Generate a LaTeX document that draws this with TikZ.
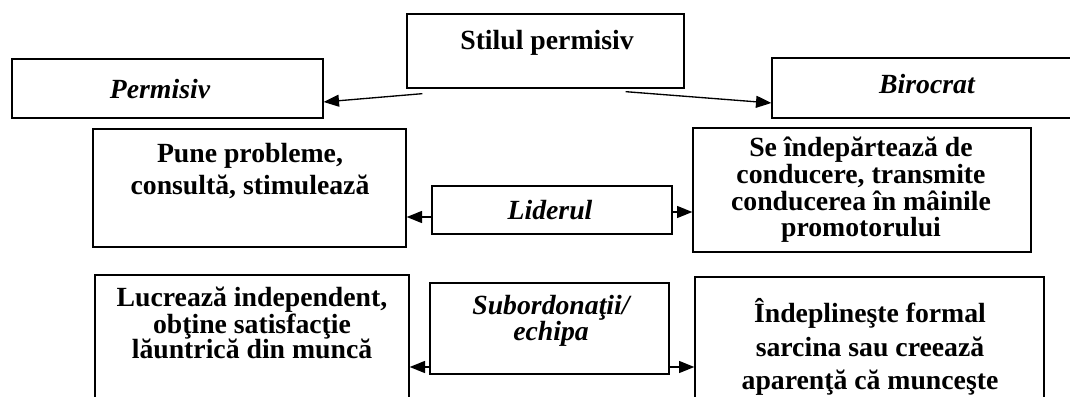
\documentclass[tikz,border=0pt]{standalone}
\usepackage{fontspec}
\setmainfont{Liberation Serif}
\usetikzlibrary{arrows.meta,fit}
\tikzset{
  box/.style={draw, line width=1pt, inner sep=0pt, rectangle},
  txt/.style={align=center, inner sep=0pt, font=\fontsize{20.8}{24}\selectfont\bfseries},
  itxt/.style={align=center, inner sep=0pt, font=\fontsize{20.8}{24}\selectfont\bfseries\itshape},
  conn/.style={line width=1pt, -{Triangle[length=11.5pt,width=9pt]}}
}
\begin{document}
\begin{tikzpicture}[x=0.75pt,y=-0.75pt]
\clip (0,0) rectangle (1070,396);
\fill[white] (0,0) rectangle (1070,396);
% boxes
\node[box, fit={(407,14) (684,88)}] (top) {};
\node[box, fit={(12,59) (323,118)}] (perm) {};
\node[box, fit={(772,58) (1085,118)}] (biro) {};
\node[box, fit={(93,129) (406,247)}] (pune) {};
\node[box, fit={(432,186) (672,234)}] (lid) {};
\node[box, fit={(693,128) (1031,252)}] (se) {};
\node[box, fit={(95,275) (409,410)}] (lucr) {};
\node[box, fit={(430,283) (669,374)}] (sub) {};
\node[box, fit={(695,277) (1044,410)}] (indep) {};
% texts
\node[txt] (ttop) at (547,43) {Stilul permisiv};
\node[itxt] (tperm) at (160,89) {Permisiv};
\node[itxt] (tbiro) at (927,84) {Birocrat};
\node[txt, font=\fontsize{20.8}{24.5}\selectfont\bfseries] (tpune) at (250,171) {Pune probleme,\\consultă, stimulează};
\node[itxt] (tlid) at (550,210) {Liderul};
\node[txt, font=\fontsize{20.8}{20}\selectfont\bfseries] (tse) at (861,190) {Se îndepărtează de\\conducere, transmite\\conducerea în mâinile\\promotorului};
\node[txt, font=\fontsize{20.8}{19}\selectfont\bfseries] (tlucr) at (252,323) {Lucrează independent,\\obţine satisfacţie\\lăuntrică din muncă};
\node[itxt, font=\fontsize{20.8}{16.8}\selectfont\bfseries\itshape] (tsub) at (551,321) {Subordonaţii/\\echipa};
\node[txt, font=\fontsize{20.8}{25}\selectfont\bfseries] (tindep) at (870,347) {Îndeplineşte formal\\sarcina sau creează\\aparenţă că munceşte};
% connector endpoints
\coordinate (a1) at ([shift={(16,5)}]top.south west);
\coordinate (a2) at ([shift={(-59,3)}]top.south east);
\draw[conn] (a1) -- (perm.east |- 0,102);
\draw[conn] (a2) -- (biro.west |- 0,103);
\draw[conn] (lid.west |- 0,217) -- (pune.east |- 0,217);
\draw[conn] (lid.east |- 0,212) -- (se.west |- 0,212);
\draw[conn] (sub.west |- 0,367) -- (lucr.east |- 0,367);
\draw[conn] (sub.east |- 0,367) -- (indep.west |- 0,367);
\end{tikzpicture}
\end{document}
